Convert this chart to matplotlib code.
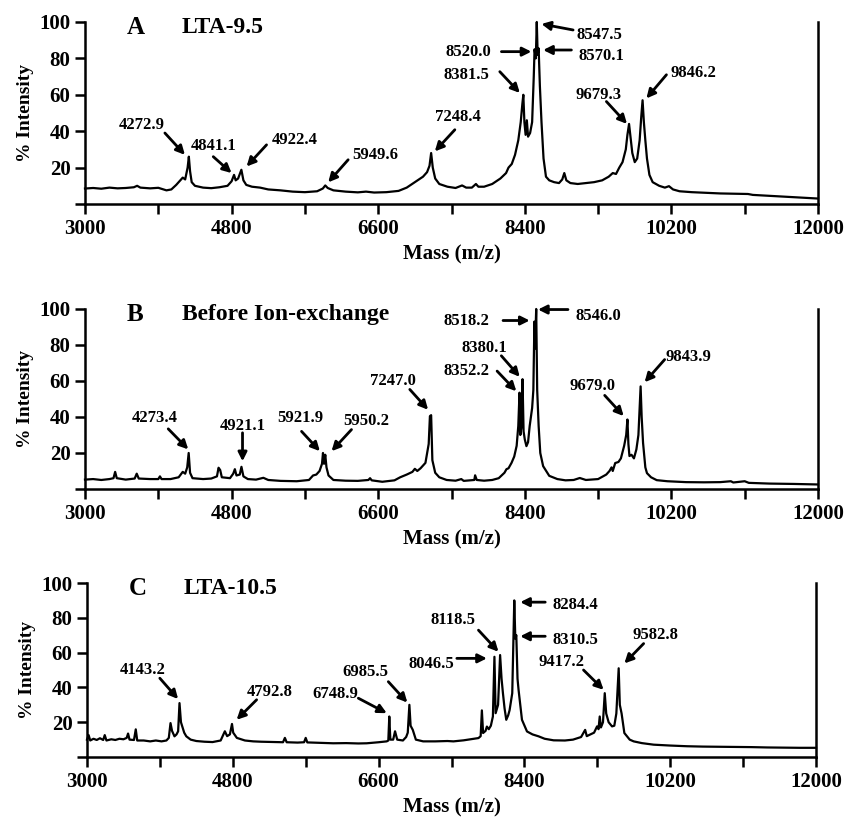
import matplotlib
matplotlib.use("Agg")
import matplotlib.pyplot as plt

plt.rcParams['font.family'] = 'Liberation Serif'
plt.rcParams['font.weight'] = 'bold'

# ---- spectrum A : LTA-9.5
mass_a = [3000, 3100, 3200, 3300, 3400, 3500, 3600, 3640, 3680, 3800, 3900, 4000, 4060, 4120, 4170,
          4200, 4230, 4260, 4275, 4290, 4310, 4350, 4450, 4550, 4650, 4750, 4800, 4830, 4850, 4880,
          4920, 4945, 4980, 5050, 5150, 5250, 5400, 5550, 5700, 5850, 5920, 5950, 5980, 6050, 6200,
          6350, 6450, 6550, 6700, 6850, 6950, 7050, 7100, 7150, 7200, 7230, 7250, 7270, 7300, 7350,
          7450, 7550, 7630, 7680, 7750, 7800, 7830, 7900, 8000, 8100, 8170, 8200, 8240, 8280, 8320,
          8350, 8370, 8382, 8395, 8410, 8425, 8440, 8465, 8490, 8510, 8520, 8535, 8547, 8558, 8570,
          8585, 8605, 8630, 8660, 8700, 8760, 8820, 8860, 8885, 8910, 8960, 9050, 9150, 9250, 9350,
          9430, 9480, 9520, 9560, 9600, 9640, 9660, 9680, 9700, 9720, 9750, 9780, 9810, 9830, 9846,
          9862, 9880, 9900, 9930, 9970, 10050, 10120, 10170, 10220, 10300, 10450, 10600, 10800, 11000, 11140,
          11200, 11400, 11600, 11800, 12000]
int_a = [8.5, 8.8, 8.4, 9.0, 8.6, 8.8, 9.2, 10.0, 9.0, 8.6, 8.9, 7.5, 8.0, 10.5, 13.0,
         14.5, 13.5, 20.0, 26.0, 18.0, 12.0, 10.0, 9.0, 8.7, 9.2, 10.0, 12.5, 16.0, 13.0, 14.0,
         18.8, 13.0, 10.5, 9.5, 9.0, 8.0, 7.5, 6.8, 6.5, 7.0, 8.5, 10.2, 8.8, 7.5, 6.8,
         6.4, 6.8, 6.3, 6.5, 7.2, 9.0, 12.0, 13.5, 15.0, 17.5, 21.0, 28.0, 20.0, 14.0, 11.0,
         9.5, 8.8, 10.2, 9.0, 9.0, 11.0, 9.5, 9.5, 11.0, 14.0, 17.0, 20.0, 22.0, 27.0, 35.0,
         45.0, 55.0, 60.0, 45.0, 38.0, 46.0, 37.0, 39.0, 45.0, 70.0, 85.0, 80.0, 100.0, 82.0, 85.5,
         65.0, 45.0, 25.0, 15.0, 13.0, 12.0, 11.5, 13.5, 17.0, 13.0, 11.5, 11.0, 11.5, 12.0, 13.0,
         15.0, 17.0, 16.5, 20.0, 23.0, 30.0, 38.0, 44.0, 36.0, 28.0, 23.0, 25.0, 35.0, 48.0, 57.0,
         45.0, 35.0, 25.0, 16.0, 12.0, 10.0, 9.0, 9.8, 8.0, 7.0, 6.5, 6.2, 5.8, 5.6, 5.5,
         5.0, 4.5, 4.0, 3.5, 3.0]

# ---- spectrum B : before ion-exchange
mass_b = [3000, 3100, 3200, 3300, 3350, 3370, 3390, 3500, 3610, 3635, 3660, 3800, 3900, 3920, 3940,
          4050, 4150, 4200, 4230, 4255, 4273, 4290, 4320, 4450, 4550, 4620, 4640, 4660, 4680, 4780,
          4820, 4840, 4860, 4900, 4921, 4945, 5000, 5100, 5190, 5250, 5400, 5600, 5750, 5800, 5840,
          5880, 5910, 5922, 5935, 5950, 5965, 5990, 6050, 6200, 6350, 6480, 6500, 6520, 6650, 6800,
          6870, 6950, 7020, 7050, 7080, 7120, 7180, 7220, 7235, 7250, 7265, 7300, 7350, 7440, 7550,
          7620, 7650, 7780, 7790, 7810, 7900, 8000, 8080, 8150, 8175, 8200, 8237, 8270, 8300, 8320,
          8335, 8345, 8360, 8372, 8385, 8400, 8420, 8440, 8460, 8490, 8505, 8518, 8525, 8540, 8552,
          8570, 8590, 8625, 8700, 8800, 8900, 9000, 9075, 9150, 9300, 9400, 9440, 9465, 9480, 9510,
          9550, 9580, 9620, 9645, 9660, 9672, 9685, 9710, 9740, 9770, 9795, 9810, 9822, 9835, 9852,
          9880, 9900, 9950, 10020, 10150, 10380, 10600, 10800, 10930, 10960, 11100, 11150, 11400, 11700, 12000]
int_b = [5.2, 5.5, 5.0, 5.5, 6.0, 9.5, 6.0, 5.2, 5.8, 8.5, 5.8, 5.5, 5.5, 7.0, 5.5,
         5.5, 6.5, 9.5, 8.5, 12.0, 20.0, 9.0, 6.0, 5.5, 5.8, 7.0, 11.8, 10.5, 6.5, 6.0,
         8.5, 11.0, 7.5, 8.0, 12.3, 7.0, 5.5, 5.2, 6.2, 5.0, 4.5, 4.3, 5.0, 7.5, 8.0,
         10.0, 14.0, 20.0, 14.0, 19.0, 12.0, 7.5, 5.0, 4.6, 4.5, 5.0, 6.0, 4.8, 4.0, 4.8,
         6.5, 8.0, 9.5, 11.2, 10.0, 11.5, 14.5, 25.0, 40.5, 41.0, 16.0, 9.0, 6.5, 5.0, 4.6,
         5.5, 4.5, 5.0, 7.6, 5.0, 4.6, 5.0, 6.0, 9.0, 11.0, 11.5, 14.5, 18.0, 24.0, 35.0,
         53.5, 30.0, 35.0, 61.0, 32.0, 27.5, 23.8, 26.0, 35.0, 45.0, 55.0, 93.0, 78.0, 100.0, 55.0,
         35.0, 20.0, 12.7, 7.3, 5.5, 4.8, 5.0, 6.1, 5.0, 5.5, 8.0, 10.0, 12.0, 10.0, 14.4,
         15.0, 17.0, 24.0, 30.0, 38.6, 25.0, 18.3, 19.0, 17.0, 22.0, 30.0, 45.0, 57.0, 40.0, 25.6,
         12.0, 8.8, 6.5, 4.9, 4.3, 3.8, 3.7, 3.8, 4.3, 3.6, 4.3, 3.4, 3.0, 2.8, 2.5]

# ---- spectrum C : LTA-10.5
mass_c = [3000, 3020, 3040, 3080, 3120, 3160, 3200, 3219, 3240, 3300, 3350, 3400, 3450, 3490, 3507,
          3525, 3580, 3602, 3620, 3700, 3780, 3850, 3920, 3980, 4010, 4031, 4050, 4080, 4105, 4125,
          4142, 4160, 4180, 4200, 4226, 4280, 4350, 4450, 4550, 4650, 4702, 4730, 4764, 4790, 4805,
          4850, 4950, 5052, 5150, 5300, 5420, 5443, 5465, 5600, 5680, 5700, 5720, 5850, 6040, 6200,
          6350, 6453, 6600, 6700, 6720, 6732, 6745, 6780, 6803, 6830, 6900, 6940, 6960, 6980, 6995,
          7022, 7060, 7150, 7300, 7450, 7524, 7650, 7780, 7833, 7860, 7875, 7890, 7920, 7937, 7960,
          7986, 8011, 8030, 8045, 8075, 8100, 8118, 8135, 8155, 8176, 8200, 8217, 8250, 8275, 8288,
          8300, 8315, 8328, 8370, 8432, 8500, 8575, 8650, 8761, 8900, 9000, 9100, 9150, 9170, 9215,
          9260, 9297, 9315, 9330, 9345, 9370, 9392, 9410, 9440, 9482, 9510, 9535, 9564, 9578, 9600,
          9634, 9700, 9749, 9850, 9996, 10200, 10409, 10600, 10800, 11000, 11200, 11400, 11600, 11800, 12000]
int_c = [10.0, 12.6, 9.5, 10.5, 9.8, 10.8, 9.8, 12.6, 9.5, 10.2, 9.8, 10.5, 10.2, 11.0, 13.5,
         10.0, 9.8, 15.9, 9.5, 9.5, 9.0, 9.5, 9.0, 9.5, 11.0, 19.5, 15.0, 11.9, 13.0, 14.8,
         31.0, 20.0, 17.0, 14.0, 11.9, 10.0, 9.2, 8.8, 8.6, 9.5, 14.8, 12.0, 13.0, 19.0, 14.0,
         11.0, 9.5, 9.0, 8.8, 8.6, 8.5, 11.0, 8.5, 8.3, 8.5, 11.0, 8.4, 8.2, 7.9, 8.0,
         7.8, 7.9, 8.5, 9.0, 9.5, 23.3, 10.0, 10.0, 14.8, 10.0, 9.5, 11.5, 14.0, 30.0, 18.0,
         15.6, 10.0, 9.0, 9.0, 9.2, 9.0, 9.6, 10.5, 10.9, 12.0, 26.8, 13.8, 15.0, 17.5, 16.0,
         18.0, 23.3, 57.6, 25.2, 30.0, 58.6, 45.0, 36.7, 28.0, 21.4, 24.0, 26.9, 36.7, 90.0, 68.0,
         70.0, 45.0, 38.6, 21.4, 14.7, 13.0, 11.9, 10.5, 9.6, 9.5, 10.0, 11.5, 15.6, 12.0, 13.0,
         14.0, 17.6, 16.0, 23.3, 17.0, 20.0, 36.7, 25.0, 20.0, 17.6, 18.0, 25.0, 51.0, 30.0, 25.0,
         13.8, 10.0, 9.0, 8.0, 7.1, 6.6, 6.2, 6.0, 5.9, 5.8, 5.7, 5.5, 5.4, 5.3, 5.3]

# peak labels: text, text position (mass, %), arrow start, arrow tip
labels_a = [("4272.9", (3695, 43.5), (3981, 39), (4227, 27)),
            ("4841.1", (4575, 31.6), (4575, 26), (4800, 17)),
            ("4922.4", (5577, 35.3), (5229, 32.5), (4984, 20.6)),
            ("5949.6", (6559, 27), (6231, 24.3), (5986, 11.9)),
            ("7248.4", (7581, 48), (7541, 40.8), (7295, 28.9)),
            ("8381.5", (7684, 71), (8093, 72.7), (8339, 61)),
            ("8520.0", (7704, 83.7), (8113, 83.7), (8481, 83.7)),
            ("8570.1", (9340, 81.4), (8972, 84.6), (8625, 84.6)),
            ("8547.5", (9320, 92.9), (8993, 95.6), (8604, 98.9)),
            ("9679.3", (9300, 60), (9402, 56.3), (9655, 44)),
            ("9846.2", (10466, 71.9), (10139, 71), (9893, 58))]
labels_b = [("4273.4", (3859, 39.5), (4022, 33.4), (4268, 22)),
            ("4921.1", (4943, 34.9), (4934, 31.2), (4934, 15.4)),
            ("5921.9", (5638, 39.5), (5659, 32), (5884, 21)),
            ("5950.2", (6456, 37.7), (6272, 33), (6027, 21)),
            ("7247.0", (6783, 60), (6988, 55.3), (7213, 44)),
            ("8518.2", (7684, 93.2), (8133, 93.6), (8460, 93.6)),
            ("8546.0", (9299, 96), (8930, 99.7), (8562, 99.7)),
            ("8380.1", (7908, 78.4), (8112, 74), (8338, 62.3)),
            ("8352.2", (7684, 65.5), (8060, 65.5), (8296, 54.3)),
            ("9679.0", (9237, 57), (9381, 52), (9614, 40.5)),
            ("9843.9", (10405, 73.4), (10117, 71.9), (9871, 59.3))]
labels_c = [("4143.2", (3692, 50), (3899, 45.3), (4125, 33.3)),
            ("4792.8", (5258, 37.6), (5094, 32.9), (4847, 21.4)),
            ("6748.9", (6062, 36.3), (6350, 33.8), (6701, 25.2)),
            ("6985.5", (6433, 49), (6720, 43.3), (6955, 31.3)),
            ("8046.5", (7248, 53.4), (7566, 56.7), (7937, 56.7)),
            ("8118.5", (7524, 79), (7833, 72.9), (8080, 60.5)),
            ("8284.4", (9028, 87.5), (8657, 89), (8348, 89)),
            ("8310.5", (9028, 67), (8657, 69.4), (8348, 69.4)),
            ("9417.2", (8862, 54.7), (9130, 50), (9378, 38.6)),
            ("9582.8", (10017, 70.4), (9872, 65.2), (9634, 53.8))]

panels = [("A", "LTA-9.5", mass_a, int_a, labels_a, [85/846, 0.7503, 733/846, 0.2228]),
          ("B", "Before Ion-exchange", mass_b, int_b, labels_b, [85/846, 0.4015, 733/846, 0.2203]),
          ("C", "LTA-10.5", mass_c, int_c, labels_c, [87/846, 0.0734, 729/846, 0.2130])]

fig = plt.figure(figsize=(8.46, 8.17), dpi=100)

for letter, title, m, y, labs, pos in panels:
    ax = fig.add_axes(pos)
    ax.plot(m, y, color="black", lw=1.6, clip_on=False)
    ax.set_xlim(3000, 12000)
    ax.set_ylim(0, 100)
    ax.spines["top"].set_visible(False)
    for s in ["left", "right", "bottom"]:
        ax.spines[s].set_linewidth(1.8)
    ax.set_xticks(range(3000, 12001, 900))
    ax.set_xticklabels([str(v) if (v - 3000) % 1800 == 0 else "" for v in range(3000, 12001, 900)])
    ax.set_yticks([0, 20, 40, 60, 80, 100])
    ax.set_yticklabels(["", "20", "40", "60", "80", "100"])
    ax.tick_params(direction="out", length=7, width=1.8, labelsize=15)
    ax.set_xlabel("Mass (m/z)", fontsize=15, fontweight="bold", labelpad=4)
    ax.set_ylabel("% Intensity", fontsize=14, fontweight="bold", labelpad=4)
    ax.text(3511, 97, letter, fontsize=18, fontweight="bold", va="center")
    ax.text(4187, 97, title, fontsize=17, fontweight="bold", va="center")
    for txt, tpos, start, tip in labs:
        ax.text(tpos[0], tpos[1], txt, fontsize=12, fontweight="bold", ha="center", va="center")
        ax.annotate("", xy=tip, xytext=start,
                    arrowprops=dict(arrowstyle="-|>", color="black", lw=2.0, mutation_scale=13,
                                    shrinkA=0, shrinkB=0))

fig.savefig("out.png", dpi=100)
